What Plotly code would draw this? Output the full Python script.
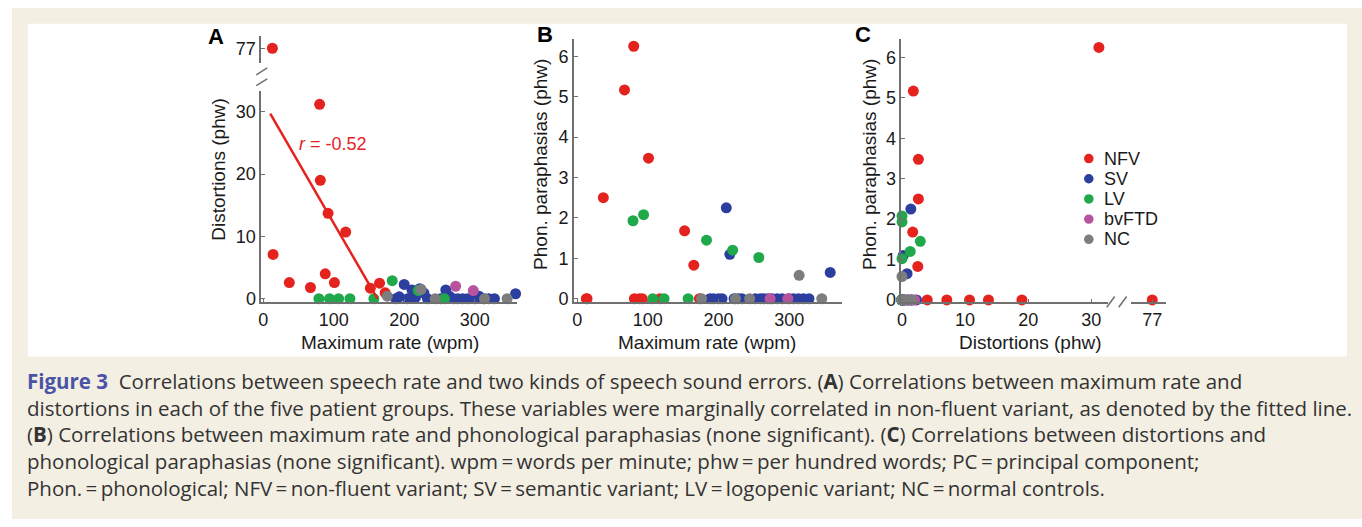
import numpy as np
import plotly.graph_objects as go

W, H = 1362, 527

# ---------------- data ----------------
groups = ["NFV", "SV", "LV", "bvFTD", "NC"]
group_colors = ["#e4231f", "#2d3f9e", "#1fa94b", "#b8549f", "#7d7d7d"]

nfv_rate = [13, 14, 37, 67, 80, 81, 88, 92, 101, 117, 152, 165, 173]
nfv_dist = [77, 7.1, 2.6, 1.8, 31.2, 19.0, 4.0, 13.7, 2.6, 10.7, 1.7, 2.5, 0.95]
nfv_phon = [0, 0, 2.5, 5.17, 6.25, 0, 0, 0, 3.48, 0, 1.68, 0.83, 0]

sv_rate = [188, 193, 200, 205, 211, 216, 222, 228, 233, 252, 259, 264, 270, 276,
           283, 290, 300, 306, 313, 320, 328, 358]
sv_dist = [0, 0.3, 2.3, 0, 1.4, 0.2, 1.6, 0.9, 0, 0, 1.4, 0.4, 0, 0,
           0, 0, 0, 0.4, 0, 0, 0, 0.8]
sv_phon = [0, 0, 0, 0, 2.25, 1.1, 0, 0, 0, 0, 0, 0, 0, 0,
           0, 0, 0, 0, 0, 0, 0, 0.65]

lv_rate = [79, 94, 107, 123, 157, 183, 220, 257]
lv_dist = [0, 0, 0, 0, 0, 2.9, 1.3, 0]
lv_phon = [1.93, 2.08, 0, 0, 0, 1.45, 1.2, 1.02]

bv_rate = [273, 298]
bv_dist = [2.0, 1.3]
bv_phon = [0, 0]

nc_rate = [176, 224, 244, 314, 346]
nc_dist = [0.4, 1.5, 0, 0, 0]
nc_phon = [0, 0, 0, 0.58, 0]

fit_rate = [10, 162]
fit_dist = [29.7, 0]
fit_label = "<i>r</i> = -0.52"

rates = [nfv_rate, sv_rate, lv_rate, bv_rate, nc_rate]
dists = [nfv_dist, sv_dist, lv_dist, bv_dist, nc_dist]
phons = [nfv_phon, sv_phon, lv_phon, bv_phon, nc_phon]

BREAK = 50  # values above this go on the broken-axis segment

caption_lines = [
    "<span style='color:#4a53a6'><b>Figure 3</b></span>  Correlations between speech rate and two kinds of speech sound errors. (<b>A</b>) Correlations between maximum rate and",
    "distortions in each of the five patient groups. These variables were marginally correlated in non-fluent variant, as denoted by the fitted line.",
    "(<b>B</b>) Correlations between maximum rate and phonological paraphasias (none significant). (<b>C</b>) Correlations between distortions and",
    "phonological paraphasias (none significant). wpm\u2009=\u2009words per minute; phw\u2009=\u2009per hundred words; PC\u2009=\u2009principal component;",
    "Phon.\u2009=\u2009phonological; NFV\u2009=\u2009non-fluent variant; SV\u2009=\u2009semantic variant; LV\u2009=\u2009logopenic variant; NC\u2009=\u2009normal controls.",
]

# ---------------- helpers ----------------
def xd(p0, p1):
    return [p0 / W, p1 / W]

def yd(top, bottom):
    return [1 - bottom / H, 1 - top / H]

AX = "#707070"
FONT = "Liberation Sans, Arial, sans-serif"
axis_common = dict(showline=True, linecolor=AX, linewidth=1.5, ticks="inside",
                   ticklen=4, tickcolor=AX, tickwidth=1, showgrid=False, zeroline=False,
                   tickfont=dict(family=FONT, size=18, color="#1a1a1a"))

fig = go.Figure()
MS = 11

# ---- Panel A: rate vs distortions (broken y axis) ----
for g, c, r, d in zip(groups, group_colors, rates, dists):
    r = np.array(r, float); d = np.array(d, float)
    lo = d < BREAK
    fig.add_trace(go.Scatter(x=r[lo], y=d[lo], mode="markers", xaxis="x", yaxis="y",
                             marker=dict(color=c, size=MS), showlegend=False, cliponaxis=False))
    if (~lo).any():
        fig.add_trace(go.Scatter(x=r[~lo], y=d[~lo], mode="markers", xaxis="x", yaxis="y2",
                                 marker=dict(color=c, size=MS), showlegend=False, cliponaxis=False))
fig.add_trace(go.Scatter(x=fit_rate, y=fit_dist, mode="lines", xaxis="x", yaxis="y",
                         line=dict(color=group_colors[0], width=2.5), showlegend=False,
                         hoverinfo="skip"))

# ---- Panel B: rate vs phon ----
for g, c, r, p in zip(groups, group_colors, rates, phons):
    fig.add_trace(go.Scatter(x=r, y=p, mode="markers", xaxis="x2", yaxis="y3",
                             marker=dict(color=c, size=MS), showlegend=False, cliponaxis=False))

# ---- Panel C: distortions vs phon (broken x axis) ----
for g, c, d, p in zip(groups, group_colors, dists, phons):
    d = np.array(d, float); p = np.array(p, float)
    lo = d < BREAK
    fig.add_trace(go.Scatter(x=d[lo], y=p[lo], mode="markers", xaxis="x3", yaxis="y4",
                             marker=dict(color=c, size=MS), name=g, showlegend=False,
                             cliponaxis=False))
    if (~lo).any():
        fig.add_trace(go.Scatter(x=d[~lo], y=p[~lo], mode="markers", xaxis="x4", yaxis="y4",
                                 marker=dict(color=c, size=MS), showlegend=False,
                                 cliponaxis=False))

layout = dict(
    width=W, height=H, margin=dict(l=0, r=0, t=0, b=0),
    paper_bgcolor="white", plot_bgcolor="rgba(0,0,0,0)",
    font=dict(family=FONT, size=18, color="#1a1a1a"),
    showlegend=False,
    # panel A
    xaxis=dict(domain=xd(258, 515), range=[-2.8, 360.7], anchor="y",
               tickvals=[0, 100, 200, 300], **axis_common),
    yaxis=dict(domain=yd(92, 307), range=[-0.58, 33.4], anchor="x",
               tickvals=[0, 10, 20, 30], **axis_common),
    yaxis2=dict(domain=yd(37, 63.5), range=[74.7, 78.9], anchor="x",
                tickvals=[77], **axis_common),
    # panel B
    xaxis2=dict(domain=xd(571.5, 840), range=[-4.7, 374], anchor="y3",
                tickvals=[0, 100, 200, 300], **axis_common),
    yaxis3=dict(domain=yd(40, 307), range=[-0.09, 6.42], anchor="x2",
                tickvals=[0, 1, 2, 3, 4, 5, 6], **axis_common),
    # panel C
    xaxis3=dict(domain=xd(900, 1107), range=[-0.1, 32.6], anchor="y4",
                tickvals=[0, 10, 20, 30], **axis_common),
    xaxis4=dict(domain=xd(1130, 1165), range=[73.6, 79.1], anchor="y4",
                tickvals=[77], **axis_common),
    yaxis4=dict(domain=yd(40, 307), range=[-0.06, 6.45], anchor="x3",
                tickvals=[0, 1, 2, 3, 4, 5, 6], **axis_common),
)
fig.update_layout(**layout)

shapes = [
    # beige frame and white figure panel
    dict(type="rect", xref="paper", yref="paper", x0=8 / W, x1=1, y0=0, y1=1 - 8 / H,
         fillcolor="#f4efe3", line=dict(width=0), layer="below"),
    dict(type="rect", xref="paper", yref="paper", x0=24 / W, x1=1347 / W,
         y0=1 - 362 / H, y1=1 - 24 / H, fillcolor="white", line=dict(width=0), layer="below"),
]
# break marks (panel A y-axis, panel C x-axis)
for (x0, y0, x1, y1) in [(253, 76, 264, 69), (253, 87, 264, 80),
                         (1106, 312, 1114, 301), (1118, 312, 1126, 301)]:
    shapes.append(dict(type="line", xref="paper", yref="paper", x0=x0 / W, x1=x1 / W,
                       y0=1 - y0 / H, y1=1 - y1 / H, line=dict(color=AX, width=1.5)))

ann = []
def pann(text, x, y, size=19, angle=0, bold=False, color="#1a1a1a", family=FONT,
         xanchor="center", yanchor="middle"):
    ann.append(dict(text=f"<b>{text}</b>" if bold else text, x=x / W, y=1 - y / H,
                    xref="paper", yref="paper", showarrow=False, textangle=angle,
                    xanchor=xanchor, yanchor=yanchor, align="left",
                    font=dict(family=family, size=size, color=color)))

# legend (panel C): colour dots + group names
for i, (g, c) in enumerate(zip(groups, group_colors)):
    yc = 161 + 20.5 * i
    shapes.append(dict(type="circle", xref="paper", yref="paper",
                       x0=(1088 - 4.8) / W, x1=(1088 + 4.8) / W,
                       y0=1 - (yc + 4.8) / H, y1=1 - (yc - 4.8) / H,
                       fillcolor=c, line=dict(width=0)))
    pann(g, 1101, yc, size=18, xanchor="left")

fig.update_layout(shapes=shapes)

pann("A", 213, 37, size=22, bold=True, color="black")
pann("B", 543, 35, size=22, bold=True, color="black")
pann("C", 862, 35, size=22, bold=True, color="black")
pann("Maximum rate (wpm)", 387, 348)
pann("Maximum rate (wpm)", 705, 348)
pann("Distortions (phw)", 1030, 348)
pann("Distortions (phw)", 215, 172, angle=-90)
pann("Phon. paraphasias (phw)", 538, 167, angle=-90)
pann("Phon. paraphasias (phw)", 868, 167, angle=-90)

ann.append(dict(text=fit_label, x=99, y=24.8, xref="x", yref="y", showarrow=False,
                font=dict(family=FONT, size=18, color=group_colors[0])))

# caption: one multi-line text block
pann("<br>".join(caption_lines), 21, 371, size=20.5, family="Open Sans, sans-serif",
     color="#333333", xanchor="left", yanchor="top")

fig.update_layout(annotations=ann)
fig.write_html("out.html", config={"displayModeBar": False},
               post_script="document.body.style.margin='0';document.body.style.overflow='hidden';")
